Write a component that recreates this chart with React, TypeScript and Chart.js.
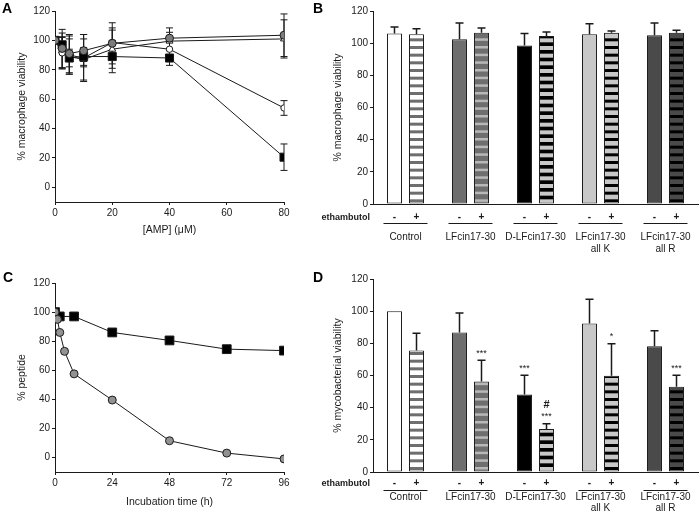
import React, { useEffect, useRef } from 'react';
import { Chart, registerables } from 'chart.js';

Chart.register(...registerables);

const FONT = "'Liberation Sans', Arial, Helvetica, sans-serif";
const INK = '#1a1a1a';

// ---------- Panel A: macrophage viability vs AMP concentration ----------
const ampConc = [0, 2.5, 5, 10, 20, 40, 80];
const ampTicks = [0, 20, 40, 60, 80];
const pctTicks = [0, 20, 40, 60, 80, 100, 120];
const aGrayCircle = [100, 94.5, 91, 93, 98, 101.5, 103.5];
const aGrayCircleErr = [0, 13, 13, 11, 14, 7, 14.5];
const aBlackSquare = [100, 97, 88, 89, 89, 88, 20.5];
const aBlackSquareErr = [0, 5, 6, 6, 11, 5, 9];
const aOpenCircle = [100, 91.5, 90, 88, 98.5, 94, 54];
const aOpenCircleErr = [0, 11, 13, 16, 10, 0, 5];
const aTriangle = [100, 93, 89, 87, 94, 99.5, 101];
const aTriangleErr = [0, 12, 12, 14, 13, 6, 13];

// ---------- Panel C: % peptide vs incubation time ----------
const hourTicks = [0, 24, 48, 72, 96];
const cSquareTime = [0, 2, 8, 24, 48, 72, 96];
const cSquare = [100, 97, 97, 86, 80.5, 74.5, 73.5];
const cCircleTime = [0, 1, 2, 4, 8, 24, 48, 72, 96];
const cCircle = [100, 95, 86, 73, 57.5, 39.5, 11.5, 3, -1];

// ---------- Panels B and D: grouped bars ----------
const groups = [['Control'], ['LFcin17-30'], ['D-LFcin17-30'], ['LFcin17-30', 'all K'], ['LFcin17-30', 'all R']];
const signs = ['-', '+'];
const treatmentLabel = 'ethambutol';
const bMinus = [106, 102.5, 98.5, 105.5, 105];
const bMinusErr = [4, 10, 7.5, 6.5, 7.5];
const bPlus = [105.5, 106.5, 104.5, 106.5, 106.5];
const bPlusErr = [3.5, 3, 2.5, 1, 1.5];
const dMinus = [100, 86.7, 48.2, 92.3, 78.2];
const dMinusErr = [0, 12.2, 12, 15.1, 9.7];
const dPlus = [75.5, 56.3, 26.7, 59.8, 53];
const dPlusErr = [10.8, 13.2, 3.3, 19.9, 7.2];
const dMinusSig = [[], [], ['***'], [], []];
const dPlusSig = [[], ['***'], ['#', '***'], ['*'], ['***']];

// styles
const minusFill = ['#ffffff', '#6e6e6e', '#000000', '#c8c8c8', '#4a4a4a'];
const plusStripeBg = ['#ffffff', '#6e6e6e', '#000000', '#c8c8c8', '#4a4a4a'];
const plusStripeFg = ['#6e6e6e', '#b8b8b8', '#c8c8c8', '#000000', '#000000'];
const plusStripeH = [3, 2.5, 4, 3, 3];

function stripePattern(bg: string, fg: string, h: number) {
  const c = document.createElement('canvas');
  c.width = 4;
  c.height = 23;
  const x = c.getContext('2d')!;
  x.fillStyle = bg;
  x.fillRect(0, 0, 4, 23);
  x.fillStyle = fg;
  [0, 7.67, 15.33].forEach((y) => x.fillRect(0, y, 4, h));
  return x.createPattern(c, 'repeat');
}

function drawErrorBars(chart: any, opts: any) {
  const { ctx } = chart;
  const ys = chart.scales.y;
  ctx.save();
  ctx.strokeStyle = INK;
  ctx.lineWidth = opts.lineWidth || 1;
  chart.data.datasets.forEach((ds: any, di: number) => {
    const errs = ds.errors;
    if (!errs) return;
    const meta = chart.getDatasetMeta(di);
    meta.data.forEach((el: any, i: number) => {
      const e = errs[i];
      if (!e) return;
      const raw = ds.data[i];
      const v = typeof raw === 'number' ? raw : raw.y;
      const x = el.x;
      const top = ys.getPixelForValue(v + e);
      const bot = opts.both ? ys.getPixelForValue(v - e) : el.y;
      const cw = opts.cap;
      ctx.beginPath();
      ctx.moveTo(x, top);
      ctx.lineTo(x, bot);
      ctx.moveTo(x - cw, top);
      ctx.lineTo(x + cw, top);
      if (opts.both) {
        ctx.moveTo(x - cw, bot);
        ctx.lineTo(x + cw, bot);
      }
      ctx.stroke();
    });
  });
  ctx.restore();
}

const errorBarPlugin = {
  id: 'errorBars',
  beforeDatasetsDraw(chart: any, _a: any, opts: any) {
    if (!opts.after) drawErrorBars(chart, opts);
  },
  afterDatasetsDraw(chart: any, _a: any, opts: any) {
    if (opts.after) drawErrorBars(chart, opts);
  },
};

const sigPlugin = {
  id: 'sigMarks',
  afterDatasetsDraw(chart: any) {
    const { ctx } = chart;
    const ys = chart.scales.y;
    ctx.save();
    ctx.fillStyle = INK;
    ctx.textAlign = 'center';
    ctx.textBaseline = 'alphabetic';
    chart.data.datasets.forEach((ds: any, di: number) => {
      if (!ds.sig) return;
      const meta = chart.getDatasetMeta(di);
      meta.data.forEach((el: any, i: number) => {
        const lines: string[] = ds.sig[i];
        if (!lines || !lines.length) return;
        const cap = ys.getPixelForValue(ds.data[i] + (ds.errors ? ds.errors[i] : 0));
        let y = cap - 4.5;
        for (let k = lines.length - 1; k >= 0; k--) {
          const t = lines[k];
          ctx.font = t === '#' ? `bold 11px ${FONT}` : `9px ${FONT}`;
          ctx.fillText(t, el.x, y);
          y -= 11;
        }
      });
    });
    ctx.restore();
  },
};

const treatmentPlugin = {
  id: 'treatmentRow',
  afterDraw(chart: any, _a: any, opts: any) {
    const { ctx, chartArea } = chart;
    const axisY = chartArea.bottom;
    const m0 = chart.getDatasetMeta(0);
    const m1 = chart.getDatasetMeta(1);
    const by = axisY + opts.signOffset;
    const ly = Math.round(axisY + opts.lineOffset) + 0.5;
    ctx.save();
    ctx.fillStyle = INK;
    ctx.strokeStyle = INK;
    ctx.lineWidth = 1;
    ctx.textBaseline = 'alphabetic';
    ctx.textAlign = 'center';
    m0.data.forEach((el: any, i: number) => {
      const e1 = m1.data[i];
      ctx.font = `bold 10px ${FONT}`;
      ctx.textBaseline = 'alphabetic';
      ctx.fillText(signs[0], el.x, by);
      ctx.fillText(signs[1], e1.x, by);
      ctx.beginPath();
      ctx.moveTo(el.x - 11, ly);
      ctx.lineTo(e1.x + 11, ly);
      ctx.stroke();
      // group label (category) under the line
      const label = chart.data.labels[i];
      const lines = Array.isArray(label) ? label : [label];
      ctx.font = `10px ${FONT}`;
      ctx.textBaseline = 'middle';
      const cx = (el.x + e1.x) / 2;
      lines.forEach((t: string, k: number) => {
        ctx.fillText(t, cx, axisY + opts.labelOffset + k * opts.labelLine);
      });
    });
    ctx.font = `bold 9px ${FONT}`;
    ctx.textAlign = 'right';
    ctx.textBaseline = 'alphabetic';
    ctx.fillText(treatmentLabel, chartArea.left - 3, by);
    ctx.restore();
  },
};

function linAxis(min: number, max: number, ticks: number[], title: string, isX: boolean, size: number, titlePad: any) {
  return {
    type: 'linear',
    min,
    max,
    afterBuildTicks: (s: any) => {
      s.ticks = ticks.map((v) => ({ value: v }));
    },
    afterFit: (s: any) => {
      if (isX) s.height = size;
      else s.width = size;
    },
    grid: { display: true, drawOnChartArea: false, drawTicks: true, tickLength: 3, color: INK, lineWidth: 1 },
    border: { display: true, color: INK, width: 1 },
    ticks: { color: INK, font: { family: FONT, size: 10 }, padding: 2, maxRotation: 0, autoSkip: false },
    title: { display: true, text: title, color: INK, font: { family: FONT, size: 10.5 }, padding: titlePad },
  };
}

const baseOptions = {
  responsive: false,
  animation: false,
  events: [],
};

function buildA() {
  const line = (data: number[], errs: number[], style: any) => ({
    data: ampConc.map((x, i) => ({ x, y: data[i] })),
    errors: errs,
    borderColor: INK,
    borderWidth: 1,
    pointBorderColor: INK,
    pointBorderWidth: 1,
    tension: 0,
    ...style,
  });
  return {
    type: 'line',
    data: {
      datasets: [
        line(aGrayCircle, aGrayCircleErr, { pointStyle: 'circle', pointRadius: 4, pointBackgroundColor: '#7c7c7c' }),
        line(aBlackSquare, aBlackSquareErr, { pointStyle: 'rect', pointRadius: 5.7, pointBackgroundColor: '#000' }),
        line(aOpenCircle, aOpenCircleErr, { pointStyle: 'circle', pointRadius: 3.2, pointBackgroundColor: '#fff' }),
        line(aTriangle, aTriangleErr, { pointStyle: 'triangle', pointRadius: 4, pointBackgroundColor: '#fff' }),
      ],
    },
    options: {
      ...baseOptions,
      layout: { padding: { left: 0, top: 11, right: 66, bottom: 21 } },
      scales: {
        x: linAxis(0, 80, ampTicks, '[AMP] (\u03BCM)', true, 37, { top: 0, bottom: 3 }),
        y: linAxis(-10, 120, pctTicks, '% macrophage viability', false, 55, { top: 15.7, bottom: 0 }),
      },
      plugins: {
        legend: { display: false },
        tooltip: { enabled: false },
        errorBars: { both: true, cap: 3.5, lineWidth: 1, after: false },
      },
    },
    plugins: [errorBarPlugin],
  };
}

function buildC() {
  return {
    type: 'line',
    data: {
      datasets: [
        {
          data: cCircleTime.map((x, i) => ({ x, y: cCircle[i] })),
          borderColor: INK,
          borderWidth: 1,
          pointStyle: 'circle',
          pointRadius: 4,
          pointBackgroundColor: '#929292',
          pointBorderColor: INK,
          pointBorderWidth: 1,
          tension: 0,
        },
        {
          data: cSquareTime.map((x, i) => ({ x, y: cSquare[i] })),
          borderColor: INK,
          borderWidth: 1,
          pointStyle: 'rect',
          pointRadius: 6.2,
          pointBackgroundColor: '#000',
          pointBorderColor: INK,
          pointBorderWidth: 1,
          tension: 0,
        },
      ],
    },
    options: {
      ...baseOptions,
      layout: { padding: { left: 0, top: 23, right: 66, bottom: 10 } },
      scales: {
        x: linAxis(0, 96, hourTicks, 'Incubation time (h)', true, 38, { top: 0, bottom: 2 }),
        y: linAxis(-10, 120, pctTicks, '% peptide', false, 55, { top: 15.7, bottom: 0 }),
      },
      plugins: { legend: { display: false }, tooltip: { enabled: false } },
    },
  };
}

function buildBars(
  minus: number[], minusErr: number[], plus: number[], plusErr: number[],
  yTitle: string, top: number, xHeight: number,
  signOffset: number, lineOffset: number, labelOffset: number, labelLine: number,
  minusSig?: string[][], plusSig?: string[][],
) {
  const patterns = plusStripeBg.map((bg, i) => stripePattern(bg, plusStripeFg[i], plusStripeH[i]));
  const common = {
    borderColor: INK,
    borderWidth: 1,
    borderSkipped: false,
    categoryPercentage: 0.677,
    barPercentage: 0.68,
  };
  return {
    type: 'bar',
    data: {
      labels: groups,
      datasets: [
        { ...common, data: minus, errors: minusErr, sig: minusSig, backgroundColor: minusFill },
        { ...common, data: plus, errors: plusErr, sig: plusSig, backgroundColor: patterns },
      ],
    },
    options: {
      ...baseOptions,
      layout: { padding: { left: 0, top, right: 2, bottom: 0 } },
      scales: {
        x: {
          type: 'category',
          afterFit: (s: any) => {
            s.height = xHeight;
          },
          grid: { display: false, drawTicks: false },
          border: { display: true, color: INK, width: 1 },
          ticks: { display: false },
        },
        y: {
          ...linAxis(0, 120, pctTicks, yTitle, false, 73, { top: 31.7, bottom: 0 }),
        },
      },
      plugins: {
        legend: { display: false },
        tooltip: { enabled: false },
        errorBars: { both: false, cap: 4, lineWidth: 1.5, after: true },
        treatmentRow: { signOffset, lineOffset, labelOffset, labelLine },
      },
    },
    plugins: [errorBarPlugin, sigPlugin, treatmentPlugin],
  };
}

function ChartBox({ build, left, top, width, height }: any) {
  const ref = useRef<HTMLCanvasElement>(null);
  useEffect(() => {
    const chart = new Chart(ref.current as HTMLCanvasElement, build() as any);
    return () => chart.destroy();
  }, []);
  return (
    <canvas
      ref={ref}
      width={width}
      height={height}
      style={{ position: 'absolute', left, top, width, height }}
    />
  );
}

const letterStyle: any = {
  position: 'absolute',
  font: `bold 14px ${FONT}`,
  lineHeight: '14px',
  color: '#000',
};

export default function App() {
  return (
    <div style={{ position: 'fixed', left: 0, top: 0, width: 700, height: 520, background: '#fff', overflow: 'hidden' }}>
      <ChartBox build={buildA} left={0} top={0} width={350} height={260} />
      <ChartBox build={buildC} left={0} top={260} width={350} height={260} />
      <ChartBox
        build={() => buildBars(bMinus, bMinusErr, bPlus, bPlusErr, '% macrophage viability', 11, 56, 16, 19, 33, 12.5)}
        left={300} top={0} width={400} height={260}
      />
      <ChartBox
        build={() => buildBars(dMinus, dMinusErr, dPlus, dPlusErr, '% mycobacterial viability', 19, 48, 14, 18, 25, 11.5, dMinusSig, dPlusSig)}
        left={300} top={260} width={400} height={260}
      />
      <div style={{ ...letterStyle, left: 2, top: 1 }}>A</div>
      <div style={{ ...letterStyle, left: 313, top: 1 }}>B</div>
      <div style={{ ...letterStyle, left: 3, top: 270 }}>C</div>
      <div style={{ ...letterStyle, left: 313, top: 270 }}>D</div>
    </div>
  );
}
